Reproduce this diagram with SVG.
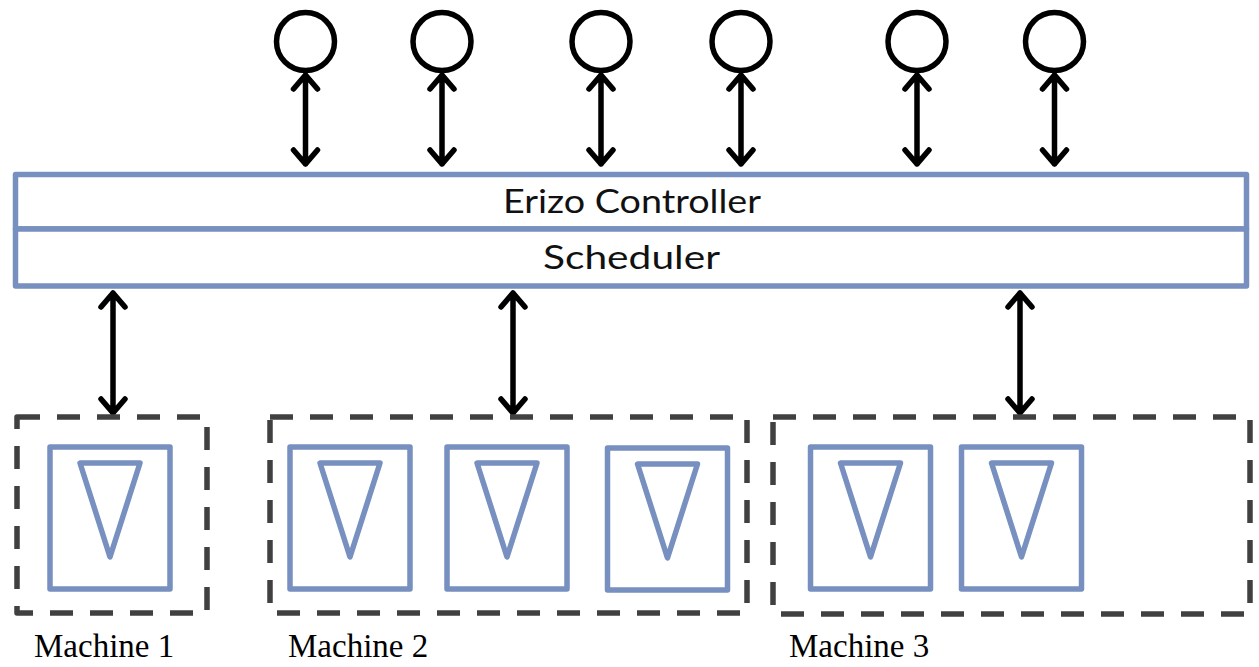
<svg xmlns="http://www.w3.org/2000/svg" width="1259" height="667" viewBox="0 0 1259 667">
<style>
.client{fill:none;stroke:#000;stroke-width:5.5}
.arrow{fill:none;stroke:#000;stroke-width:5.5;stroke-linecap:round;stroke-linejoin:round}
.bar{fill:#fff;stroke:#7790C0;stroke-width:5.5;stroke-linejoin:round}
.machine{fill:none;stroke:#404040;stroke-width:5.5;stroke-dasharray:23 17;stroke-linejoin:round}
.worker{fill:#fff;stroke:#7790C0;stroke-width:5.5;stroke-linejoin:round}
.label{font-family:Lato,"Liberation Sans",sans-serif;font-weight:400;font-size:32px;fill:#111;text-anchor:middle}
.mlabel{font-family:"Liberation Serif",serif;font-size:33px;fill:#000}
</style>
<defs>
<g id="w"><rect class="worker" x="-60" y="0" width="120" height="142"/><polygon class="worker" points="-30,16 30,16 0,110"/></g>
</defs>
<g id="clients">
<circle id="client1" class="client" cx="305.5" cy="41.5" r="29"/>
<circle id="client2" class="client" cx="442" cy="41.5" r="29"/>
<circle id="client3" class="client" cx="601" cy="41.5" r="29"/>
<circle id="client4" class="client" cx="741" cy="41.5" r="29"/>
<circle id="client5" class="client" cx="917" cy="41.5" r="29"/>
<circle id="client6" class="client" cx="1054.5" cy="41.5" r="29"/>
</g>
<g id="erizo-controller">
<rect class="bar" x="15.5" y="174.5" width="1231" height="54.5"/>
<text class="label" x="632" y="213" textLength="258" lengthAdjust="spacingAndGlyphs">Erizo Controller</text>
</g>
<g id="scheduler">
<rect class="bar" x="15.5" y="229" width="1231" height="57"/>
<text class="label" x="631.5" y="269" textLength="177" lengthAdjust="spacingAndGlyphs">Scheduler</text>
</g>
<g id="connectors">
<path class="arrow" d="M305.5,75V164M293.5,89L305.5,75L317.5,89M293.5,150L305.5,164L317.5,150"/>
<path class="arrow" d="M442,75V164M430,89L442,75L454,89M430,150L442,164L454,150"/>
<path class="arrow" d="M601,75V164M589,89L601,75L613,89M589,150L601,164L613,150"/>
<path class="arrow" d="M741,75V164M729,89L741,75L753,89M729,150L741,164L753,150"/>
<path class="arrow" d="M917,75V164M905,89L917,75L929,89M905,150L917,164L929,150"/>
<path class="arrow" d="M1054.5,75V164M1042.5,89L1054.5,75L1066.5,89M1042.5,150L1054.5,164L1066.5,150"/>
<path class="arrow" d="M113,293V413M101,307L113,293L125,307M101,399L113,413L125,399"/>
<path class="arrow" d="M513,293V413M501,307L513,293L525,307M501,399L513,413L525,399"/>
<path class="arrow" d="M1020,293V413M1008,307L1020,293L1032,307M1008,399L1020,413L1032,399"/>
</g>
<g id="machine1">
<rect class="machine" x="17" y="417" width="190" height="196"/>
<use href="#w" x="110" y="447"/>
<text class="mlabel" x="34" y="657">Machine 1</text>
</g>
<g id="machine2">
<rect class="machine" x="270" y="417" width="477" height="196"/>
<use href="#w" x="350" y="447"/>
<use href="#w" x="507" y="447"/>
<use href="#w" x="667.5" y="448"/>
<text class="mlabel" x="288" y="657">Machine 2</text>
</g>
<g id="machine3">
<rect class="machine" x="773" y="417" width="477" height="197"/>
<use href="#w" x="870.5" y="447"/>
<use href="#w" x="1021.5" y="447"/>
<text class="mlabel" x="789" y="657">Machine 3</text>
</g>
</svg>
